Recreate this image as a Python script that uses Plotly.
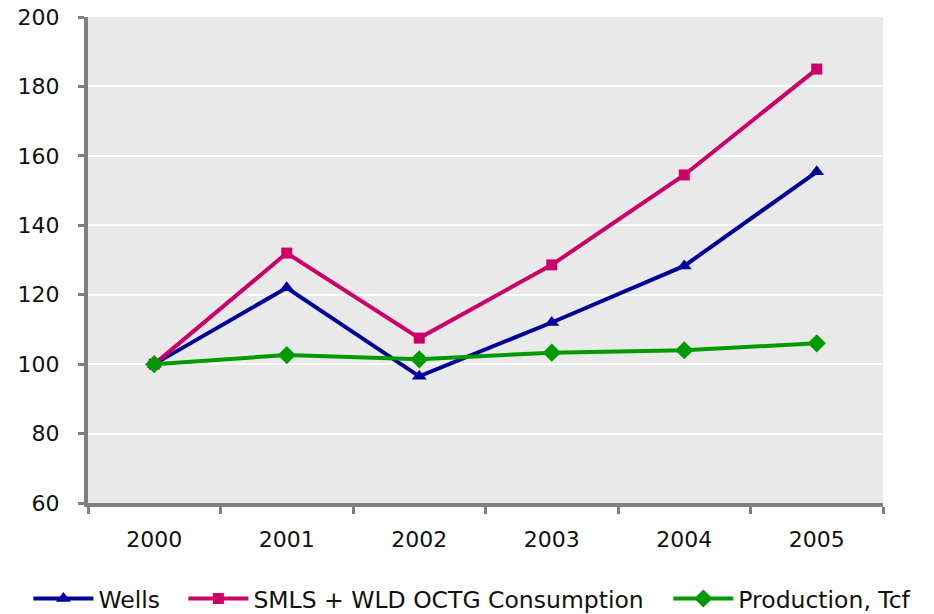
import plotly.graph_objects as go

years = ["2000", "2001", "2002", "2003", "2004", "2005"]
wells = [100, 122, 96.5, 112, 128.3, 155.4]
octg = [100, 132, 107.5, 128.6, 154.5, 185]
production = [100, 102.6, 101.4, 103.3, 104, 106]

y_ticks = [60, 80, 100, 120, 140, 160, 180, 200]

# name, values, colour, marker, marker size, legend id, legend x (paper)
series = [
    ("Wells", wells, "#000099", "triangle-up", 13, "legend", -0.075),
    ("SMLS + WLD OCTG Consumption", octg, "#CC0066", "square", 11, "legend2", 0.12),
    ("Production, Tcf", production, "#009900", "diamond", 14, "legend3", 0.73),
]

fig = go.Figure()
legend_font = dict(family="DejaVu Sans", size=23.5, color="#111111")
legends = {}
for name, vals, color, symbol, msize, leg, lx in series:
    fig.add_trace(go.Scatter(
        x=years, y=vals, name=name, mode="lines+markers",
        line=dict(color=color, width=4),
        marker=dict(symbol=symbol, size=msize, color=color),
        legend=leg,
    ))
    legends[leg] = dict(
        orientation="h", x=lx, xanchor="left", y=-0.197, yanchor="middle",
        font=legend_font, itemwidth=60, bgcolor="rgba(0,0,0,0)",
    )

axis_font = dict(family="DejaVu Sans", size=22, color="#111111")

fig.update_layout(
    width=934, height=614,
    margin=dict(l=88, r=51, t=17, b=111, autoexpand=False),
    paper_bgcolor="white",
    plot_bgcolor="#E9E9E9",
    showlegend=True,
    xaxis=dict(
        type="category", tickson="boundaries", ticks="outside", ticklen=7,
        tickwidth=3, tickcolor="#808080", showline=True, linewidth=4,
        linecolor="#808080", showgrid=False, tickfont=axis_font,
        ticklabelstandoff=14, range=[-0.5, 5.5], automargin=False,
    ),
    yaxis=dict(
        range=[60, 200], tickvals=y_ticks, ticks="outside", ticklen=6,
        tickwidth=3, tickcolor="#808080", showline=True, linewidth=4,
        linecolor="#808080", showgrid=True, gridcolor="white", gridwidth=1.5,
        zeroline=False, tickfont=axis_font, ticklabelstandoff=14,
        automargin=False,
    ),
    **legends,
)

fig.write_html("out.html")
